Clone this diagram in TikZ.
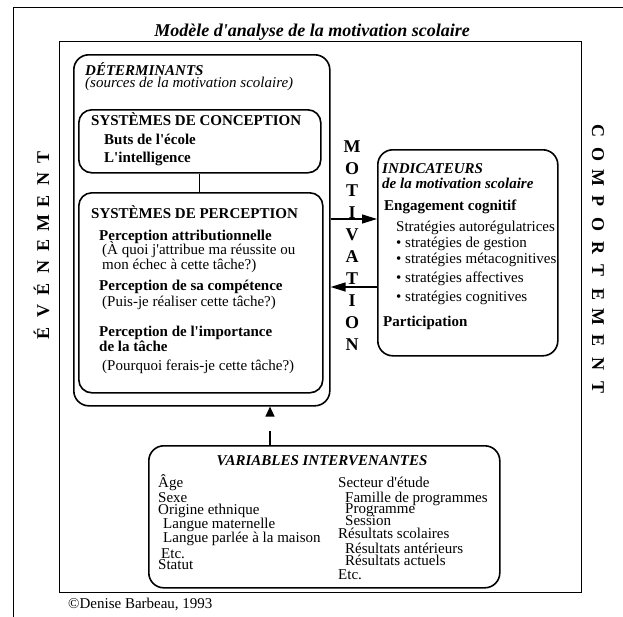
\documentclass[tikz,border=0pt]{standalone}
\usepackage{fontspec}
\setmainfont{Liberation Serif}[Ligatures=TeXOff]
\usetikzlibrary{arrows.meta}
\newcommand\fsz{\fontsize{15}{17}\selectfont}
\begin{document}
\begin{tikzpicture}[x=1pt,y=-1pt,
  frame/.style={draw, line width=1.3pt, inner sep=0pt, anchor=north west},
  rbox/.style={draw, line width=1.6pt, rounded corners=15pt, inner sep=0pt, anchor=north west},
  rboxs/.style={draw, line width=1.6pt, rounded corners=13pt, inner sep=0pt, anchor=north west},
  t/.style={inner sep=0pt, anchor=base west, font=\fsz},
  tb/.style={t, font=\fsz\bfseries},
  tbi/.style={t, font=\fsz\bfseries\itshape},
  ti/.style={t, font=\fsz\itshape},
  letter/.style={inner sep=0pt, anchor=center, text height=12pt, text depth=0pt, font=\fontsize{18}{20}\selectfont\bfseries},
  arr/.style={line width=1.3pt, -{Triangle[length=15pt,width=9pt]}},
]
\useasboundingbox (0,0) rectangle (623,616);
\clip (0,0) rectangle (623,616);
% frames
\node[frame, minimum width=700pt, minimum height=700pt] (outer) at (13,7) {};
\node[frame, minimum width=522pt, minimum height=551pt] (inner) at (59,41) {};
\node[inner sep=0pt, anchor=base, font=\fontsize{18}{20}\selectfont\bfseries\itshape] (title) at (312,36) {Modèle d'analyse de la motivation scolaire};
% boxes
\node[rbox, minimum width=256pt, minimum height=351pt] (det) at (73,54) {};
\node[rboxs, minimum width=242pt, minimum height=63pt] (conc) at (78,109) {};
\node[rboxs, minimum width=244pt, minimum height=200pt] (perc) at (78,192) {};
\node[rbox, minimum width=180pt, minimum height=206pt] (ind) at (377,149) {};
\node[rbox, minimum width=351pt, minimum height=142pt] (var) at (148,445) {};
% determinants
\node[tbi] (detT) at (85,75) {DÉTERMINANTS};
\node[ti] (detS) at (85,87) {(sources de la motivation scolaire)};
\node[tb] (concT) at (91,125) {SYSTÈMES DE CONCEPTION};
\node[tb] (c1) at (104,144) {Buts de l'école};
\node[tb] (c2) at (104,162) {L'intelligence};
\node[tb] (percT) at (91,218) {SYSTÈMES DE PERCEPTION};
\node[tb] (p1) at (99,240) {Perception attributionnelle};
\node[t] (p1a) at (102,254) {(À quoi j'attribue ma réussite ou};
\node[t] (p1b) at (102,269) {mon échec à cette tâche?)};
\node[tb] (p2) at (99,290) {Perception de sa compétence};
\node[t] (p2a) at (102,306) {(Puis-je réaliser cette tâche?)};
\node[tb] (p3) at (99,336) {Perception de l'importance};
\node[tb] (p3b) at (99,351) {de la tâche};
\node[t] (p3a) at (102,370) {(Pourquoi ferais-je cette tâche?)};
% indicateurs
\node[tbi] (indT) at (382,173) {INDICATEURS};
\node[tbi] (indS) at (382,188) {de la motivation scolaire};
\node[tb] (i1) at (384,210) {Engagement cognitif};
\node[t] (i2) at (396,231) {Stratégies autorégulatrices};
\node[t] (i3) at (396,247) {• stratégies de gestion};
\node[t] (i4) at (396,263) {• stratégies métacognitives};
\node[t] (i5) at (396,282) {• stratégies affectives};
\node[t] (i6) at (396,301) {• stratégies cognitives};
\node[tb] (i7) at (383,326) {Participation};
% variables
\node[inner sep=0pt, anchor=base, font=\fsz\bfseries\itshape] (varT) at (322,465) {VARIABLES INTERVENANTES};
\node[t] (v1) at (158,487) {Âge};
\node[t] (v2) at (158,502) {Sexe};
\node[t] (v3) at (158,514) {Origine ethnique};
\node[t] (v4) at (163,528) {Langue maternelle};
\node[t] (v5) at (163,542) {Langue parlée à la maison};
\node[t] (v6) at (161,558) {Etc.};
\node[t] (v7) at (158,569) {Statut};
\node[t] (w1) at (338,487) {Secteur d'étude};
\node[t] (w2) at (345,502) {Famille de programmes};
\node[t] (w3) at (345,513) {Programme};
\node[t] (w4) at (345,525) {Session};
\node[t] (w5) at (338,538) {Résultats scolaires};
\node[t] (w6) at (345,553) {Résultats antérieurs};
\node[t] (w7) at (345,565) {Résultats actuels};
\node[t] (w8) at (338,579) {Etc.};
% copyright
\node[t] (copy) at (68,608) {©Denise Barbeau, 1993};
% vertical words
\foreach \l [count=\i from 0] in {M,O,T,I,V,A,T,I,O,N}
  \node[letter] (mot\i) at (352,{146+22*\i}) {\l};
\foreach \l [count=\i from 0] in {É,V,É,N,E,M,E,N,T}
  \node[letter, rotate=90] (ev\i) at (43,{333-22*\i}) {\l};
\foreach \l [count=\i from 0] in {C,O,M,P,O,R,T,E,M,E,N,T}
  \node[letter, rotate=-90] (co\i) at (598,{131+23.3*\i}) {\l};
% connectors
\draw[line width=1.3pt] (conc.south) -- (conc.south |- perc.north);
\draw[arr] (det.east |- 0,219) -- (ind.west |- 0,219);
\draw[arr] (ind.west |- 0,287) -- (det.east |- 0,287);
\draw[line width=1.3pt, dash pattern=on 14pt off 40pt, -{Triangle[length=10pt,width=9pt]}] (var.north -| 270,0) -- (det.south -| 270,0);
\end{tikzpicture}
\end{document}
